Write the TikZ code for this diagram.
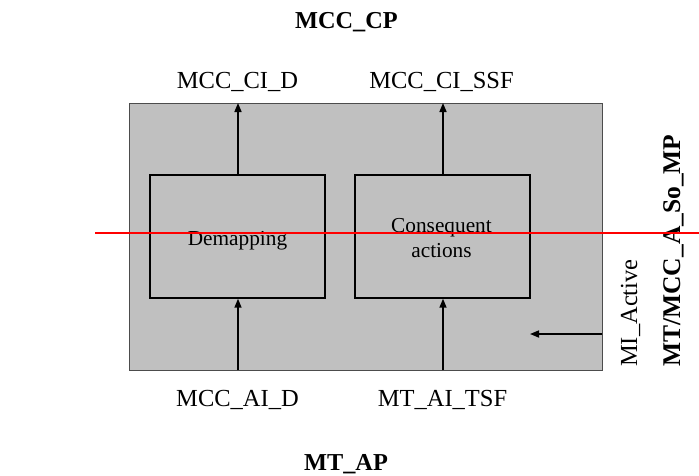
\documentclass[tikz,border=0pt]{standalone}
\usepackage{fontspec}
\setmainfont{Liberation Serif}
\usetikzlibrary{arrows.meta}
\definecolor{boxgray}{RGB}{192,192,192}
\begin{document}
\begin{tikzpicture}[x=1pt,y=-1pt,
  lbl/.style={font=\fontsize{24.5}{28}\selectfont, inner sep=0pt, anchor=base},
  blbl/.style={font=\fontsize{24.3}{28}\selectfont\bfseries, inner sep=0pt, anchor=base},
  txt/.style={font=\fontsize{21.3}{25}\selectfont, inner sep=0pt, anchor=base},
  fn/.style={draw=black, line width=1.4pt, fill=boxgray, minimum width=175pt, minimum height=123pt, inner sep=0pt},
  arr/.style={line width=1.6pt, -{Triangle[length=9pt,width=7pt]}}]
\useasboundingbox (0,0) rectangle (699,475);
\node[draw=black!70, line width=1pt, fill=boxgray, minimum width=473pt, minimum height=267pt, inner sep=0pt] (outer) at (365.5,236.5) {};
\node[fn] (dm) at (237.5,236.5) {};
\node[txt] (dmt) at (237.5,245) {Demapping};
\node[fn] (ca) at (442.5,236.5) {};
\node[txt] (cat1) at (441.5,232) {Consequent};
\node[txt] (cat2) at (441.5,257) {actions};
\coordinate (t1) at (238,103);
\coordinate (t2) at (443,103);
\coordinate (b1) at (238,370);
\coordinate (b2) at (443,370);
\coordinate (mi) at (602,334);
\coordinate (mie) at (530,334);
\draw[arr] (dm.north -| t1) -- (t1);
\draw[arr] (ca.north -| t2) -- (t2);
\draw[arr] (b1) -- (dm.south -| b1);
\draw[arr] (b2) -- (ca.south -| b2);
\draw[arr] (mi) -- (mie);
\node[blbl] (cp) at (346.5,28) {MCC\_CP};
\node[lbl] (cid) at (237.5,88) {MCC\_CI\_D};
\node[lbl] (cis) at (441.5,88) {MCC\_CI\_SSF};
\node[lbl] (aid) at (237.5,406) {MCC\_AI\_D};
\node[lbl] (ais) at (442.5,406) {MT\_AI\_TSF};
\node[blbl] (ap) at (346,470) {MT\_AP};
\node[lbl, rotate=90, anchor=base west] (mia) at (637,367) {MI\_Active};
\node[blbl, font=\fontsize{25.5}{28}\selectfont\bfseries, rotate=90, anchor=base west] (so) at (680,367) {MT/MCC\_A\_So\_MP};
\coordinate (r1) at (95,233);
\coordinate (r2) at (699,233);
\draw[red, line width=1.6pt] (r1) -- (r2);
\end{tikzpicture}
\end{document}
